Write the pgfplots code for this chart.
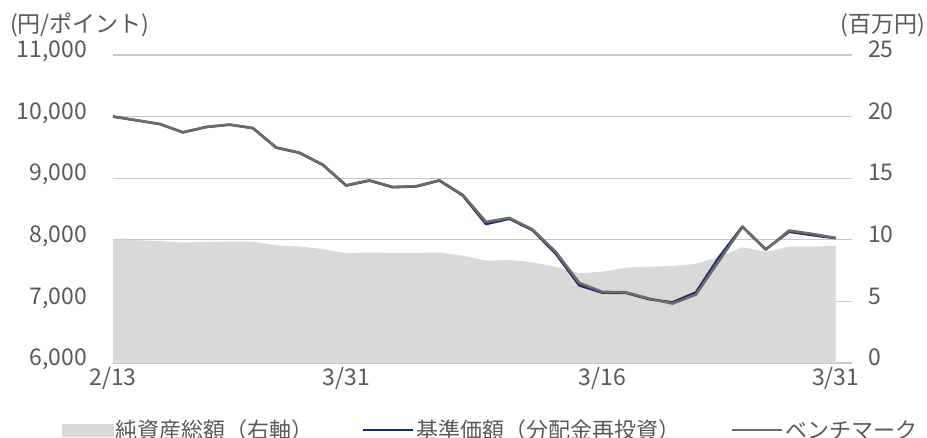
\documentclass[border=0pt]{standalone}
\usepackage{pgfplots}
\pgfplotsset{compat=1.18}
\usepackage{fontspec}
\setmainfont{Noto Sans CJK JP}
\definecolor{areagray}{HTML}{D9D9D9}
\definecolor{gridgray}{HTML}{C8C8C8}
\definecolor{navy}{HTML}{1A2A70}
\definecolor{benchgray}{HTML}{6B6B6B}
\definecolor{textgray}{HTML}{595959}

\pgfplotstableread{
i price nav total
0 10000 10000 10.00
1 9940 9940 9.97
2 9880 9880 9.90
3 9745 9745 9.78
4 9833 9830 9.82
5 9870 9868 9.85
6 9815 9812 9.85
7 9500 9495 9.55
8 9415 9410 9.45
9 9220 9215 9.25
10 8885 8880 8.90
11 8966 8960 8.97
12 8858 8852 8.93
13 8870 8865 8.93
14 8966 8960 8.97
15 8730 8720 8.72
16 8290 8255 8.30
17 8355 8340 8.36
18 8166 8155 8.17
19 7800 7770 7.80
20 7300 7260 7.28
21 7154 7140 7.41
22 7148 7138 7.74
23 7045 7035 7.82
24 6965 6985 7.87
25 7110 7145 8.04
26 7660 7720 8.63
27 8210 8215 9.39
28 7840 7845 9.03
29 8150 8130 9.44
30 8095 8075 9.44
31 8030 8025 9.52
}\fund

\newcommand{\chartfont}{\fontsize{23}{27}\selectfont}
\newcommand{\legfont}{\fontsize{22}{26}\selectfont}

\pgfplotsset{
  base/.style={
    scale only axis, width=739pt, height=308pt,
    xmin=0, xmax=31.7,
    axis line style={draw=none},
    major tick length=0pt,
    scaled y ticks=false,
    /pgf/number format/assume math mode=true,
    /pgf/number format/1000 sep={,},
    tick label style={font=\chartfont, text=textgray, inner sep=0pt},
  }
}

\begin{document}
\begin{tikzpicture}
\useasboundingbox (-113pt,-75pt) rectangle (814pt,363pt);

% right axis: net assets (million yen), with the grid
\begin{axis}[base,
  ymin=0, ymax=25, ytick={0,5,...,25},
  yticklabel pos=right,
  yticklabel style={anchor=mid west, xshift=16pt},
  ymajorgrids, grid style={gridgray, line width=1.2pt},
  xtick={0,10,21,31}, xticklabels={2/13,3/31,3/16,3/31},
  xticklabel style={anchor=base, yshift=-23pt},
]
\addplot[fill=areagray, draw=none] table[x=i, y=total] {\fund} \closedcycle;
\end{axis}

% left axis: NAV and benchmark
\begin{axis}[base,
  ymin=6000, ymax=11000, ytick={6000,7000,...,11000},
  xtick=\empty,
  yticklabel style={anchor=mid east, xshift=-26pt},
  legend style={at={(axis description cs:-0.069,-0.2175)}, anchor=west,
    legend columns=-1, draw=none, fill=none, inner sep=0pt,
    font=\legfont, text=textgray,
    nodes={inner xsep=2pt, inner ysep=0pt}},
  legend image code/.code={\draw[#1] (0pt,0pt) -- (50pt,0pt);},
]
\addlegendimage{legend image code/.code={\fill[areagray] (0pt,-6pt) rectangle (51pt,6pt);}}
\addlegendentry{純資産総額（右軸）\rule{46pt}{0pt}}
\addplot[navy, line width=2.4pt, line join=round] table[x=i, y=nav] {\fund};
\addlegendentry{基準価額（分配金再投資）\rule{49pt}{0pt}}
\addplot[benchgray, line width=2.6pt, line join=round] table[x=i, y=price] {\fund};
\addlegendentry{ベンチマーク}
\end{axis}

\node[anchor=base west, font=\chartfont, text=textgray, inner sep=0pt]
  at (-103pt, 330pt) {(円/ポイント)};
\node[anchor=base east, font=\chartfont, text=textgray, inner sep=0pt]
  at (812pt, 330pt) {(百万円)};
\end{tikzpicture}
\end{document}
